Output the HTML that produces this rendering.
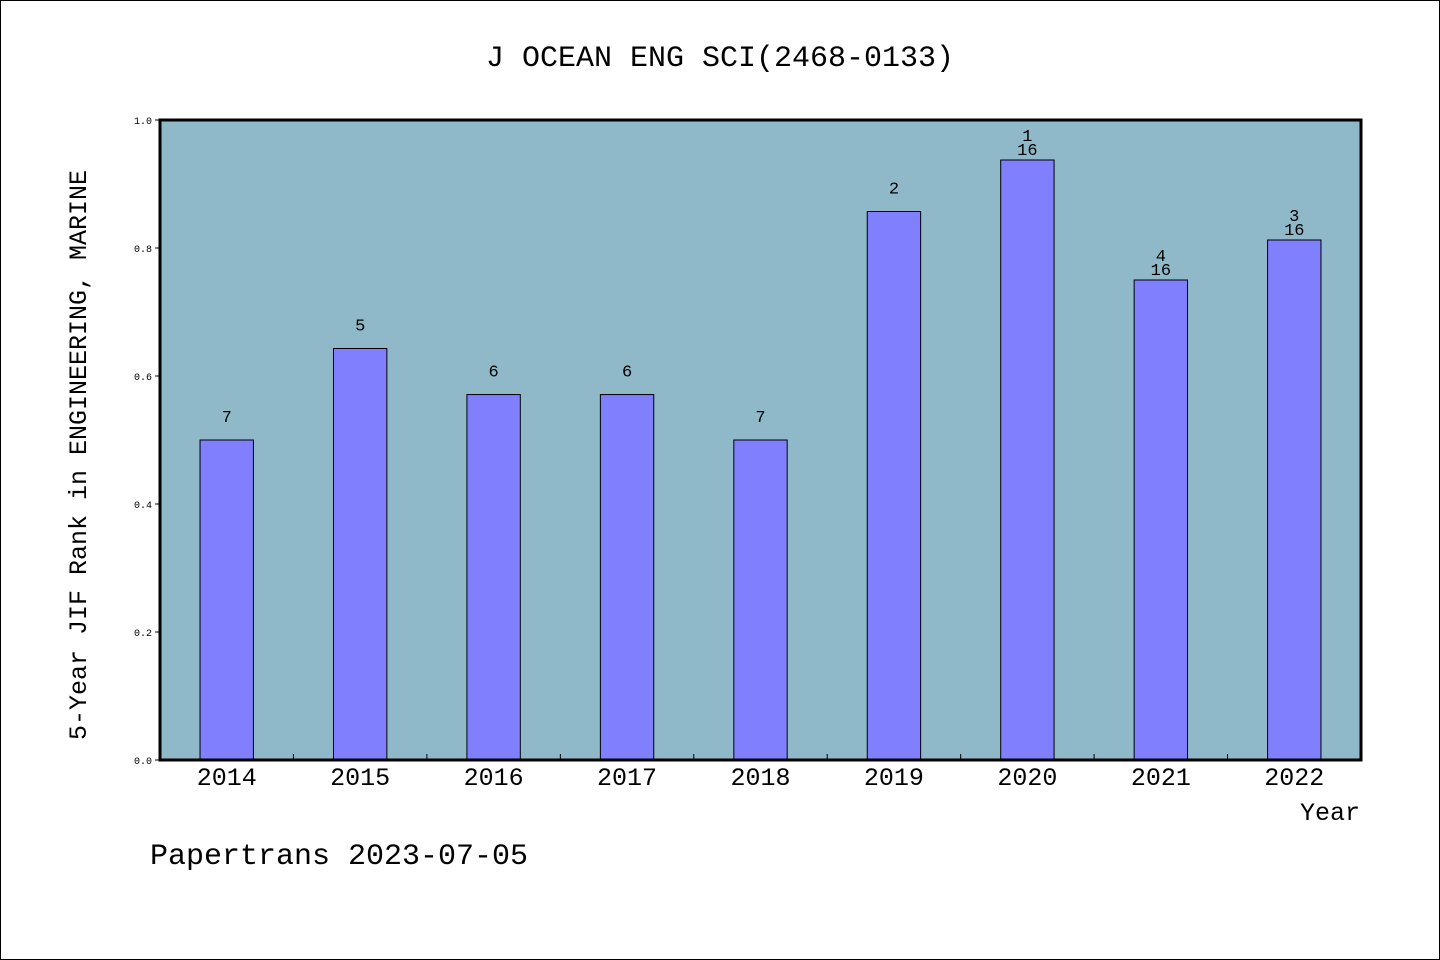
<!DOCTYPE html>
<html><head><meta charset="utf-8"><style>
html,body{margin:0;padding:0;background:#fff}
svg{display:block}
text{font-family:"WenQuanYi Zen Hei","Liberation Mono",monospace;fill:#000}
</style></head><body>
<svg id="chart" width="1440" height="960">
<rect x="0.5" y="0.5" width="1439" height="959" fill="#fff" stroke="#000"/>
<text x="720" y="66" font-size="30" text-anchor="middle">J OCEAN ENG SCI(2468-0133)</text>
<rect x="160" y="120" width="1201" height="640" fill="#8fb8c8"/>
<g id="bars"></g>
<g id="axes"></g>
<rect x="160" y="120" width="1201" height="640" fill="none" stroke="#000" stroke-width="3"/>
<text x="1360" y="820" font-size="25" text-anchor="end">Year</text>
<text transform="translate(86,455) rotate(-90)" font-size="25" text-anchor="middle">5-Year JIF Rank in ENGINEERING, MARINE</text>
<text x="150" y="864" font-size="30">Papertrans 2023-07-05</text>
</svg>
<script>
const categories=["2014","2015","2016","2017","2018","2019","2020","2021","2022"];
const values=[0.5,0.643,0.571,0.571,0.5,0.857,0.9375,0.75,0.8125];
const rankTop=["","","","","","","1","4","3"];
const rankLabels=["7","5","6","6","7","2","16","16","16"];
const yTicks=[0,0.2,0.4,0.6,0.8,1.0];
const NS="http://www.w3.org/2000/svg";
const L=160,R=1361,T=120,B=760;
const bw=(R-L)/categories.length;
const y=v=>B-(B-T)*v;
const x=i=>L+bw*(i+0.5);
function mk(tag,attrs,parent,txt){const e=document.createElementNS(NS,tag);for(const k in attrs)e.setAttribute(k,attrs[k]);if(txt!==undefined)e.textContent=txt;parent.appendChild(e);return e;}
const gb=document.getElementById('bars'),ga=document.getElementById('axes');
categories.forEach((c,i)=>{
  const w=bw*0.4;
  const r=mk('rect',{x:x(i)-w/2,y:y(values[i]),width:w,height:B-y(values[i]),fill:'#8080ff',stroke:'#000','stroke-width':1},gb);
  
  
  const t=mk('text',{x:x(i),y:y(values[i])-18,'font-size':17,'text-anchor':'middle'},gb,rankLabels[i]);
  if(rankTop[i]) t.setAttribute('y',y(values[i])-5);
  
  
  if(rankTop[i]){
    const t2=mk('text',{x:x(i),y:y(values[i])-19,'font-size':17,'text-anchor':'middle'},gb,rankTop[i]);
    
    
  }
  const xl=mk('text',{x:x(i),y:B+25,'font-size':25,'text-anchor':'middle'},ga,c);
  
  
  if(i>0){
    const tk=mk('line',{x1:L+bw*i,x2:L+bw*i,y1:B,y2:B-6,stroke:'#000'},ga);
    
    
  }
});
yTicks.forEach(v=>{
  const tk=mk('line',{x1:L-5,x2:L,y1:y(v),y2:y(v),stroke:'#000'},ga);
  
  
  const tl=mk('text',{x:L-8,y:y(v)+4,'font-size':10,'text-anchor':'end'},ga,v.toFixed(1));
  
  
});
</script>
</body></html>
